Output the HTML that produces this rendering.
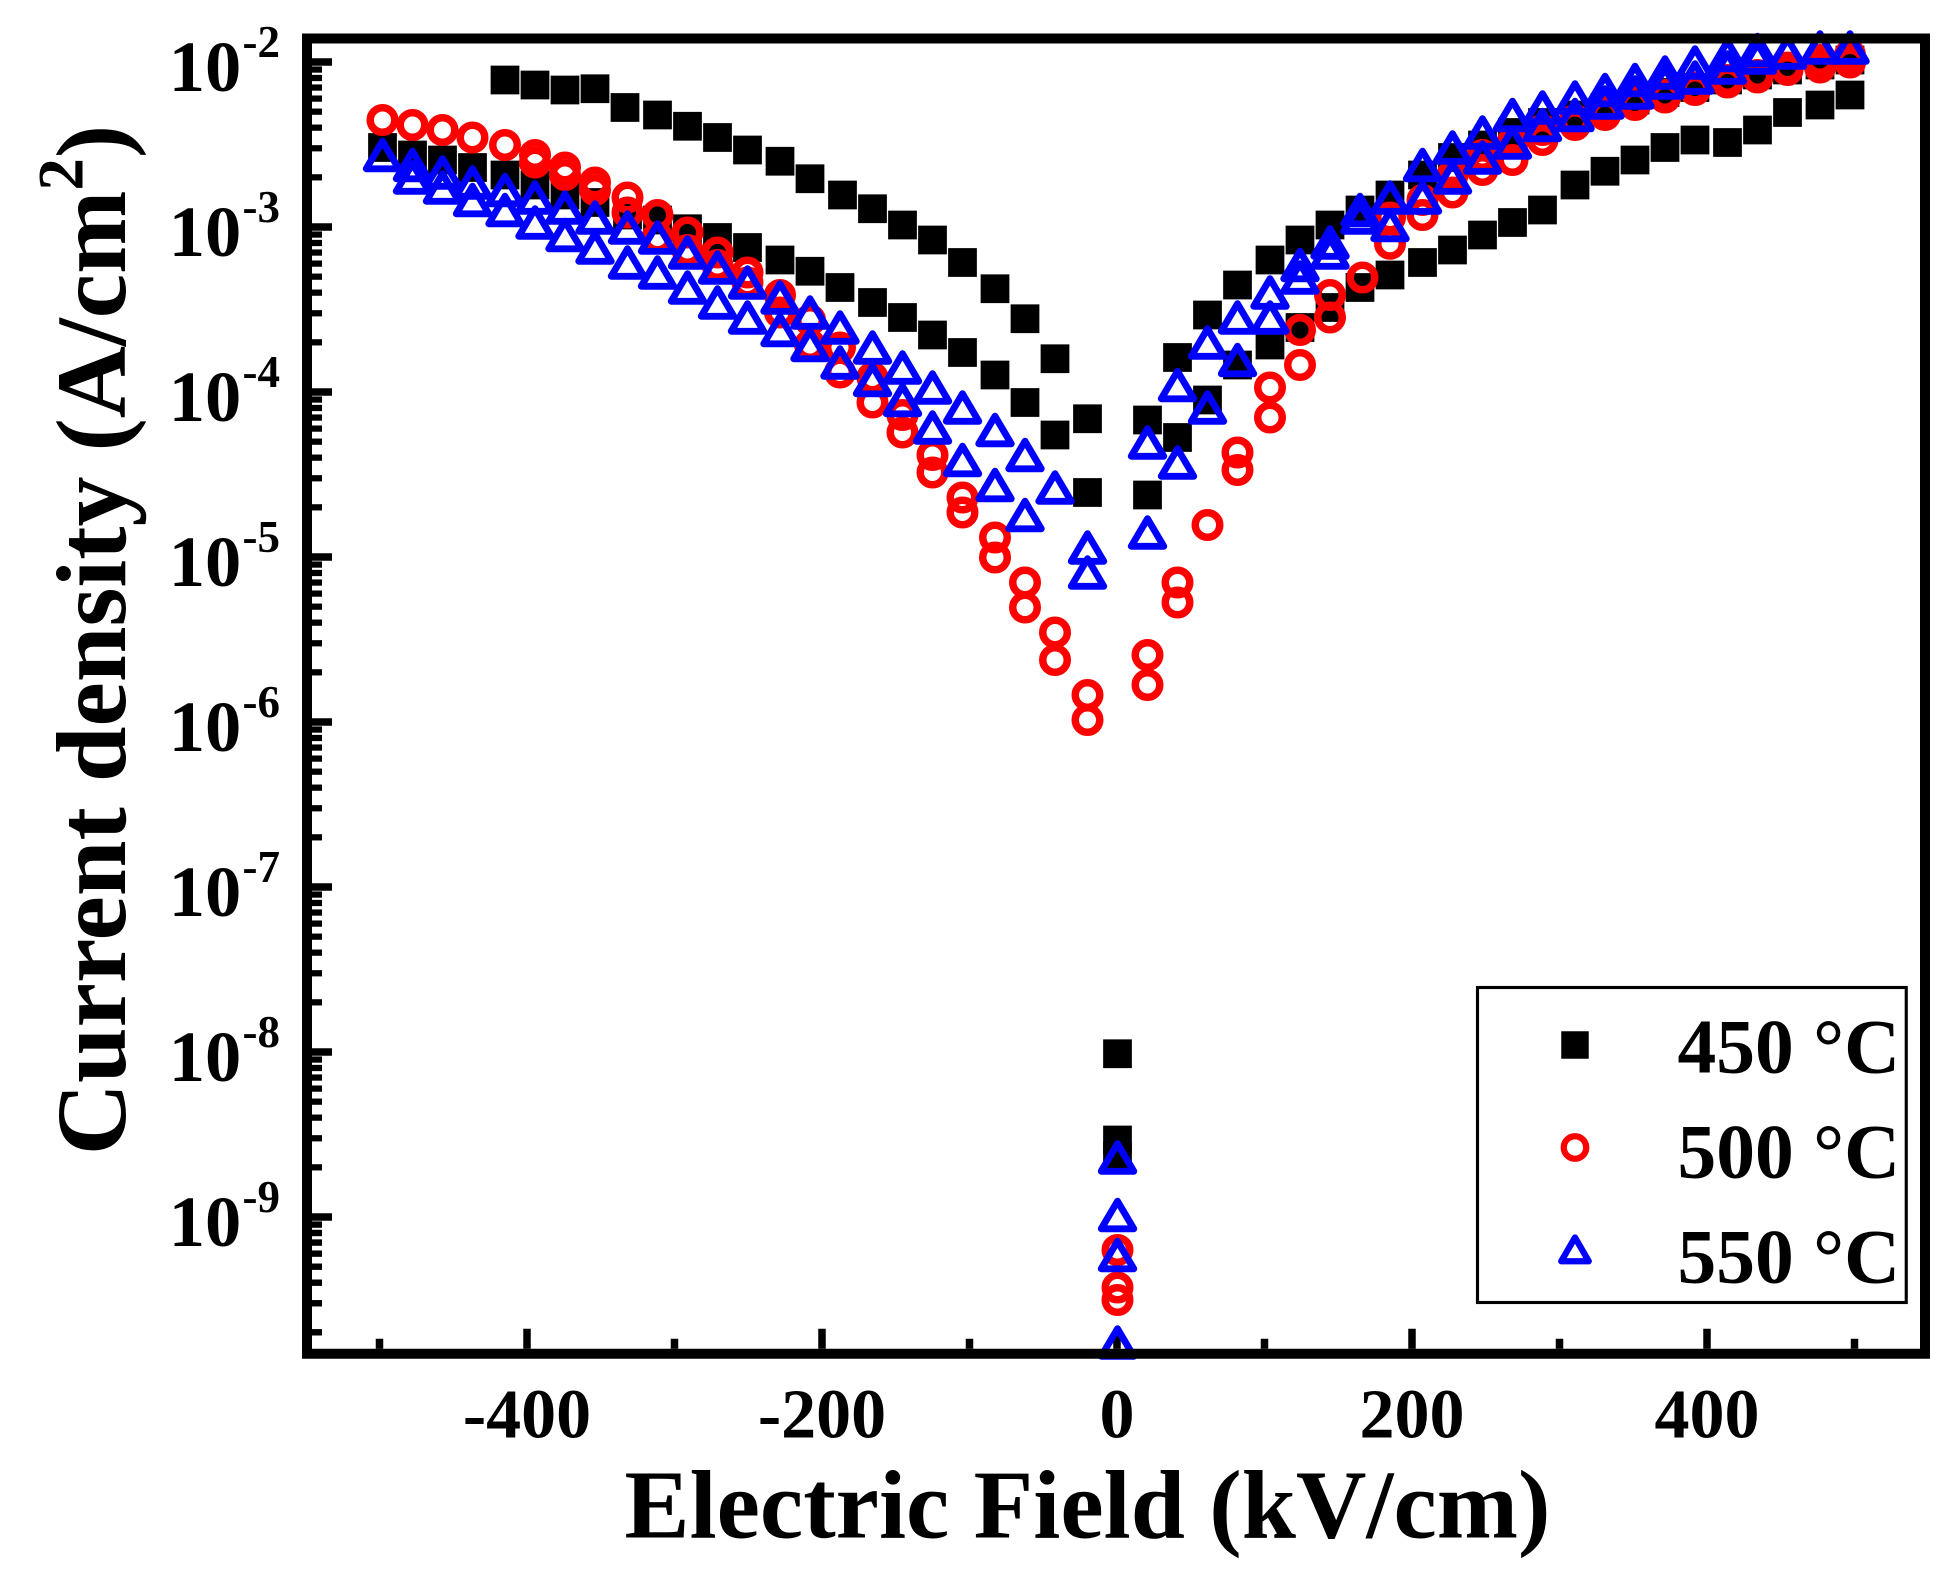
<!DOCTYPE html>
<html><head><meta charset="utf-8"><style>
html,body{margin:0;padding:0;background:#fff;}
svg{display:block;}
text{font-family:"Liberation Serif",serif;font-weight:bold;fill:#000;}
</style></head><body>
<svg id="s" width="1957" height="1582" viewBox="0 0 1565.6 1265.6" xmlns="http://www.w3.org/2000/svg">
<rect x="0" y="0" width="1565.6" height="1265.6" fill="#fff"/>
<g id="ticks" stroke="#000" fill="none"></g>
<g id="data"></g>
<rect x="245.6" y="30.8" width="1294.4" height="1052.2" fill="none" stroke="#000" stroke-width="8"/>
<g id="ylab" font-size="58"></g>
<g font-size="56" text-anchor="middle">
<text x="421.6" y="1150">-400</text>
<text x="657.6" y="1150">-200</text>
<text x="893.6" y="1150">0</text>
<text x="1129.6" y="1150">200</text>
<text x="1365.6" y="1150">400</text>
</g>
<text x="870" y="1230" font-size="78" text-anchor="middle">Electric Field (kV/cm)</text>
<text transform="translate(100,512) rotate(-90)" font-size="80" text-anchor="middle">Current density (A/cm<tspan font-size="52" dy="-34">2</tspan><tspan dy="34">)</tspan></text>
<rect x="1182" y="790" width="343" height="252" fill="none" stroke="#000" stroke-width="2.5"/>
<rect x="1249" y="825" width="22" height="22" fill="#000"/>
<circle cx="1260" cy="918" r="9" fill="none" stroke="#f00" stroke-width="5"/>
<polygon points="1260,990 1271,1009 1249,1009" fill="none" stroke="#00f" stroke-width="5" stroke-linejoin="round"/>
<g font-size="62">
<text x="1342" y="858">450 °C</text>
<text x="1342" y="942">500 °C</text>
<text x="1342" y="1026">550 °C</text>
</g>
</svg>
<script>
var NS="http://www.w3.org/2000/svg";
function el(p,t,a){var e=document.createElementNS(NS,t);for(var k in a)e.setAttribute(k,a[k]);p.appendChild(e);return e;}
var tk=document.getElementById('ticks'),yl=document.getElementById('ylab'),dg=document.getElementById('data');
var L=249.6,B=1079;
for(var k=2;k<=9;k++){
 var y=49.6+132*(k-2);
 el(tk,'line',{x1:L,x2:L+16,y1:y,y2:y,'stroke-width':6});
 var t=el(yl,'text',{x:193,y:y+23,'text-anchor':'end'});t.textContent='10';
 var s=el(yl,'text',{x:194,y:y-4,'font-size':36});s.textContent='-'+k;
 for(var m=2;m<=9;m++){
  var ym=y+132*(1-Math.log10(m));
  if(ym>30.8&&ym<B) el(tk,'line',{x1:L,x2:L+8,y1:ym,y2:ym,'stroke-width':5});
 }
}
for(var m=2;m<=9;m++){var ym=49.6+132*7+132*(1-Math.log10(m));if(ym<B)el(tk,'line',{x1:L,x2:L+8,y1:ym,y2:ym,'stroke-width':5});}
for(var v=-500;v<=500;v+=100){
 var x=893.6+1.18*v, major=(v%200===0);
 el(tk,'line',{x1:x,x2:x,y1:B,y2:B-(major?16:8),'stroke-width':6});
}
function sq(p){p.forEach(function(q){el(dg,'rect',{x:q[0]-11.5,y:q[1]-11.5,width:23,height:23,fill:'#000'});});}
function ci(p){p.forEach(function(q){el(dg,'circle',{cx:q[0],cy:q[1],r:9.8,fill:'none',stroke:'#f00','stroke-width':6});});}
function tr(p){p.forEach(function(q){var x=q[0],y=q[1];el(dg,'polygon',{points:(x)+','+(y-13)+' '+(x+13)+','+(y+9)+' '+(x-13)+','+(y+9),fill:'none',stroke:'#00f','stroke-width':5.5,'stroke-linejoin':'round'});});}
sq([[404,64],[428,68],[452,72],[476,71],[500,86],[526,92],[550,101],[574,110],[598,120],[624,129],[648,143],[674,156],[698,167],[722,180],[746,192],[770,210],[796,231],[820,255],[844,287],[870,335],
[306,118],[330,124],[354,128],[378,134],[404,140],[428,148],[452,156],[476,162],[502,172],[526,176],[550,183],[574,190],[598,198],[624,208],[648,217],[672,230],[698,242],[722,254],[746,268],[770,282],[796,300],[820,322],[844,348],[870,394],
[894,843],[894,912],[894,925],
[918,336],[918,396],[942,286],[942,350],[966,252],[966,320],[990,228],[990,292],[1016,208],[1016,276],[1040,192],[1040,262],[1064,180],[1064,246],[1088,168],[1088,230],[1112,156],[1112,220],[1138,210],[1162,200],[1186,188],[1210,178],[1234,168],[1260,148],[1284,137],[1308,128],[1332,118],[1356,112],[1382,114],[1406,104],[1430,90],[1456,84],[1480,76],
[1138,140],[1162,126],[1186,116],[1210,106],[1234,98],[1260,92],[1284,86],[1308,80],[1332,74],[1356,70],[1382,64],[1406,60],[1430,56],[1456,52],[1480,48]]);
ci([[306,96],[330,100],[354,104],[378,110],[404,116],[428,124],[452,134],[476,146],[502,158],[526,172],[550,186],[574,202],[598,218],[624,236],[648,256],[672,278],[698,302],[722,332],[746,364],[770,398],[796,430],[820,466],[844,506],[870,556],
[428,130],[452,140],[476,152],[502,170],[526,190],[550,200],[574,212],[598,226],[624,250],[648,276],[672,298],[698,322],[722,346],[746,378],[770,410],[796,446],[820,486],[844,528],[870,576],
[894,1000],[894,1030],[894,1040],
[918,524],[918,548],[942,466],[942,482],[966,420],[990,362],[990,376],[1016,310],[1016,334],[1040,264],[1040,292],[1064,236],[1064,254],[1090,222],[1112,195],[1138,172],[1162,154],[1186,136],[1210,128],[1234,112],[1260,100],[1284,92],[1308,84],[1332,78],[1356,72],[1382,66],[1406,62],[1430,56],[1456,54],[1480,50],
[1112,174],[1138,160],[1162,140],[1186,124],[1210,114],[1234,104],[1260,96],[1284,88],[1308,82],[1332,76],[1356,70],[1382,64],[1406,60],[1430,54],[1456,48],[1480,44]]);
tr([[306,126],[330,134],[354,140],[378,148],[404,154],[428,160],[452,168],[476,176],[502,184],[526,192],[550,204],[574,216],[598,228],[624,240],[648,252],[672,264],[698,280],[722,296],[746,312],[770,328],[796,346],[820,366],[844,392],[870,440],
[330,144],[354,152],[378,162],[404,170],[428,180],[452,190],[476,200],[502,212],[526,220],[550,232],[574,244],[598,256],[624,266],[648,278],[672,292],[698,306],[722,322],[746,344],[770,370],[796,390],[820,414],[870,460],
[894,928],[894,974],[894,1006],[894,1076],
[918,428],[918,356],[942,372],[942,310],[966,328],[966,276],[990,290],[990,256],[1016,256],[1016,236],[1040,224],[1040,214],[1064,204],[1064,196],[1088,176],[1088,170],[1112,182],[1112,160],[1138,160],[1138,134],[1162,144],[1162,120],[1186,128],[1186,108],[1210,116],[1210,94],[1234,102],[1234,88],[1260,94],[1260,80],[1284,84],[1284,74],[1308,76],[1308,66],[1332,68],[1332,60],[1356,64],[1356,52],[1382,56],[1382,46],[1406,48],[1406,42],[1430,44],[1456,40],[1480,40]]);
</script>
</body></html>
